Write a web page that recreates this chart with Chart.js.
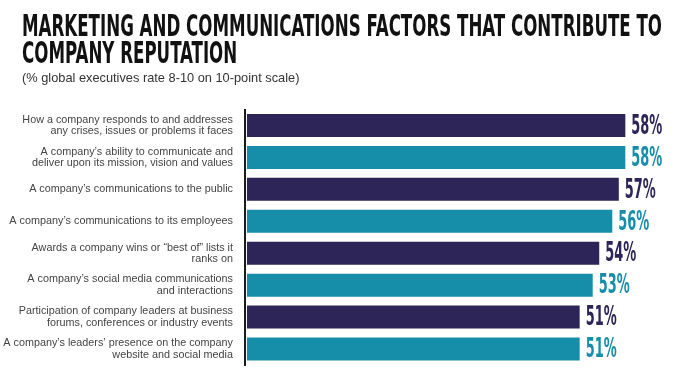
<!DOCTYPE html>
<html>
<head>
<meta charset="utf-8">
<script src="https://cdn.jsdelivr.net/npm/chart.js@4.4.1/dist/chart.umd.min.js"></script>
<style>
  html, body { margin: 0; padding: 0; background: #fff; }
  #wrap { width: 700px; height: 383px; position: relative; }
</style>
</head>
<body>
<div id="wrap"><canvas id="bar-chart" width="700" height="383"></canvas></div>
<script>
var titleLines = ['MARKETING AND COMMUNICATIONS FACTORS THAT CONTRIBUTE TO', 'COMPANY REPUTATION'];
var subtitle = '(% global executives rate 8-10 on 10-point scale)';
var fattori = [
    ['How a company responds to and addresses', 'any crises, issues or problems it faces'],
    ['A company\u2019s ability to communicate and', 'deliver upon its mission, vision and values'],
    'A company\u2019s communications to the public',
    'A company\u2019s communications to its employees',
    ['Awards a company wins or \u201cbest of\u201d lists it', 'ranks on'],
    ['A company\u2019s social media communications', 'and interactions'],
    ['Participation of company leaders at business', 'forums, conferences or industry events'],
    ['A company\u2019s leaders\u2019 presence on the company', 'website and social media']
];
var percentuali = [58, 58, 57, 56, 54, 53, 51, 51];
var colori = ['#2d2457', '#178ea9', '#2d2457', '#178ea9', '#2d2457', '#178ea9', '#2d2457', '#178ea9'];

var condensed = '"Liberation Sans Narrow", "DejaVu Sans Condensed", Arial, sans-serif';

// titolo e sottotitolo, compressi in larghezza come nel grafico originale
var intestazione = {
    id: 'intestazione',
    afterDraw: function(chart) {
        var ctx = chart.ctx;
        ctx.save();
        ctx.fillStyle = '#111';
        ctx.textBaseline = 'alphabetic';
        ctx.textAlign = 'left';
        ctx.font = 'bold 31px ' + condensed;
        var sx = 640 / ctx.measureText(titleLines[0]).width;
        ctx.save();
        ctx.translate(22, 0);
        ctx.scale(sx, 1);
        ctx.fillText(titleLines[0], 0, 36);
        ctx.fillText(titleLines[1], 0, 63);
        ctx.restore();
        ctx.fillStyle = '#333';
        ctx.font = '12.8px "Liberation Sans", Arial, sans-serif';
        ctx.fillText(subtitle, 22, 82);
        ctx.restore();
    }
};

// etichette con le percentuali a destra delle barre
var valori = {
    id: 'valori',
    afterDatasetsDraw: function(chart) {
        var ctx = chart.ctx;
        var meta = chart.getDatasetMeta(0);
        ctx.save();
        ctx.font = 'bold 26px ' + condensed;
        ctx.textBaseline = 'middle';
        ctx.textAlign = 'left';
        var sx = 31 / ctx.measureText('58%').width;
        meta.data.forEach(function(bar, i) {
            ctx.save();
            ctx.fillStyle = colori[i];
            ctx.translate(bar.x + 6, bar.y + 1.5);
            ctx.scale(sx, 1);
            ctx.fillText(percentuali[i] + '%', 0, 0);
            ctx.restore();
        });
        ctx.restore();
    }
};

var ctx = document.getElementById('bar-chart');
var chart = new Chart(ctx, {
    type: 'bar',
    data: {
        labels: fattori,
        datasets: [{
            data: percentuali,
            backgroundColor: colori,
            borderWidth: 0,
            categoryPercentage: 1,
            barPercentage: 0.72
        }]
    },
    options: {
        indexAxis: 'y',
        responsive: false,
        animation: false,
        layout: { padding: { top: 109.5, bottom: 18, left: 0, right: 29 } },
        plugins: {
            legend: { display: false },
            tooltip: { enabled: false }
        },
        scales: {
            x: {
                display: false,
                min: -0.3,
                max: 65
            },
            y: {
                afterFit: function(scale) { scale.width = 245; },
                grid: { display: false },
                border: { display: true, color: '#1a1a1a', width: 2 },
                ticks: {
                    color: '#444',
                    padding: 4,
                    font: { family: '"Liberation Sans", Arial, sans-serif', size: 10.8, lineHeight: 1.05 }
                }
            }
        }
    },
    plugins: [intestazione, valori]
});
</script>
</body>
</html>
